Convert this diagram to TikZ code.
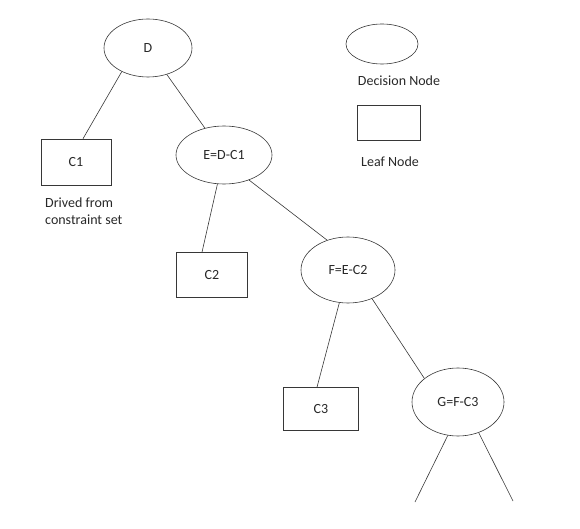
\documentclass[tikz,border=0pt]{standalone}
\usepackage{fontspec}
\setmainfont{Carlito}
\usetikzlibrary{shapes.geometric}
\definecolor{linegray}{RGB}{55,55,55}
\definecolor{textgray}{RGB}{40,40,40}

\begin{document}
\begin{tikzpicture}[x=1pt,y=-1pt,
    decision/.style={draw=linegray,ellipse,line width=0.6pt,inner sep=0pt},
    leaf/.style={draw=linegray,rectangle,line width=0.6pt,inner sep=0pt},
    edge/.style={draw=linegray,line width=0.6pt},
    font=\fontsize{14}{17}\selectfont,text=textgray]
      \useasboundingbox (0,0) rectangle (580,529);
      \node[decision,minimum width=88pt,minimum height=58pt] (D) at (148,48) {D};
      \node[leaf,minimum width=70pt,minimum height=46pt] (C1) at (76,162) {C1};
      \node[decision,minimum width=96pt,minimum height=58pt] (E) at (224,155) {E=D-C1};
      \node[leaf,minimum width=71pt,minimum height=45pt] (C2) at (212,275) {C2};
      \node[decision,minimum width=94pt,minimum height=66pt] (F) at (348,270) {F=E-C2};
      \node[leaf,minimum width=75pt,minimum height=43pt] (C3) at (321,409) {C3};
      \node[decision,minimum width=92pt,minimum height=68pt] (G) at (458,402) {G=F-C3};
      \node[anchor=west,align=left,inner sep=0pt] (note) at (45,211) {Drived from\\constraint set};
      % legend
      \node[decision,minimum width=72pt,minimum height=40pt] (dec) at (382,44) {};
      \node (declabel) at (399,81) {Decision Node};
      \node[leaf,minimum width=63pt,minimum height=35pt] (lf) at (389,123) {};
      \node (lflabel) at (390,162) {Leaf Node};
      \coordinate (gl) at (415,502);
      \coordinate (gr) at (513,501);
      \draw[edge] (D.222) -- ([xshift=7pt]C1.north);
      \draw[edge] (D) -- (E);
      \draw[edge] (E) -- ([xshift=-10pt]C2.north);
      \draw[edge] (E.-45) -- (F.125);
      \draw[edge] (F) -- ([xshift=-4pt]C3.north);
      \draw[edge] (F.-50) -- (G.145);
      \draw[edge] (G.-107) -- (gl);
      \draw[edge] (G.-56) -- (gr);
\end{tikzpicture}
\end{document}
